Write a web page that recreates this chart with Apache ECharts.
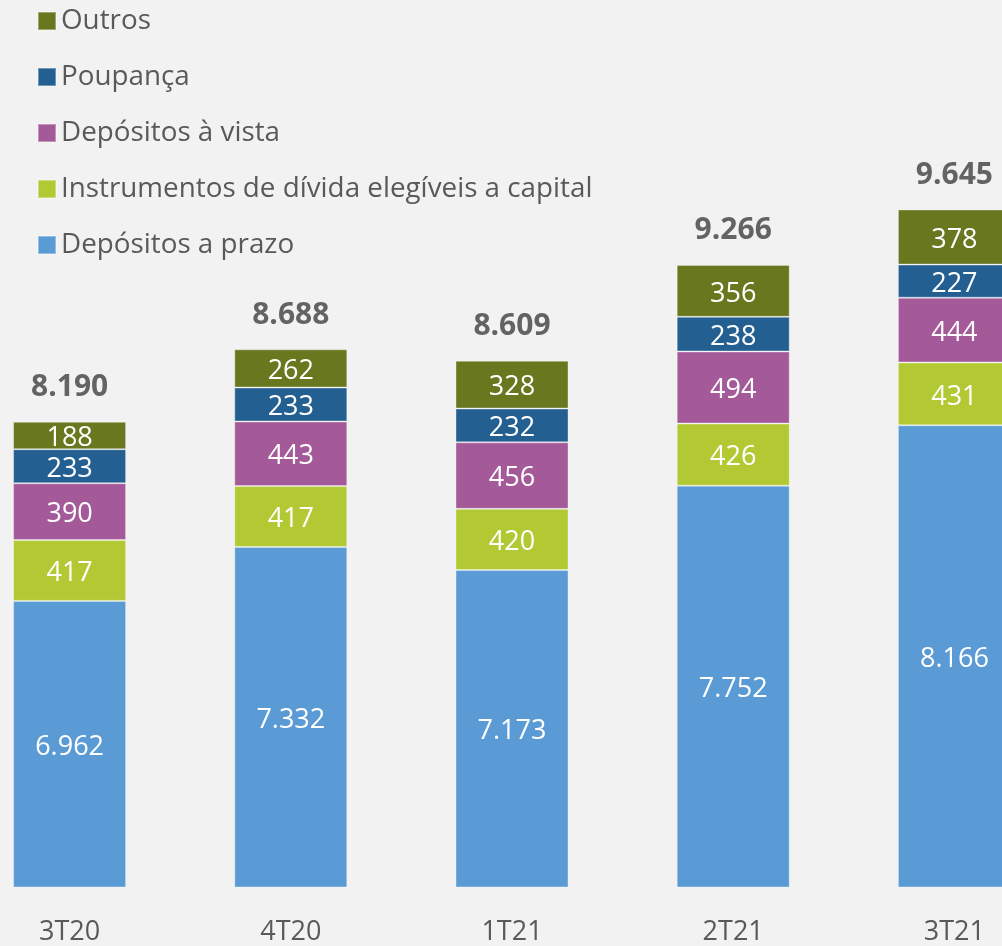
<!DOCTYPE html>
<html>
<head>
<meta charset="utf-8">
<style>
  html, body { margin: 0; padding: 0; background: #f2f2f2; overflow: hidden; }
  /* a área do gráfico passa das bordas da janela, como no original */
  #chart { width: 1106px; height: 946px; margin-left: -41px; }
</style>
<script src="https://cdn.jsdelivr.net/npm/echarts@6/dist/echarts.min.js"></script>
</head>
<body>
<div id="chart"></div>
<script>
// dados do gráfico
const quarters = ['3T20', '4T20', '1T21', '2T21', '3T21'];
const depPrazo = [6962, 7332, 7173, 7752, 8166];
const instrumentos = [417, 417, 420, 426, 431];
const depVista = [390, 443, 456, 494, 444];
const poupanca = [233, 233, 232, 238, 227];
const outros = [188, 262, 328, 356, 378];
const totals = [8190, 8688, 8609, 9266, 9645];

const font = '"Open Sans", "Noto Sans", sans-serif';

// 6962 -> "6.962"
const fmt = (v) => String(v).replace(/\B(?=(\d{3})+(?!\d))/g, '.');

const seg = (name, data, color) => ({
  name: name,
  type: 'bar',
  stack: 'total',
  data: data,
  barWidth: 113,
  itemStyle: { color: color, borderColor: 'rgba(255,255,255,0.35)', borderWidth: 1 },
  label: {
    show: true,
    position: 'inside',
    offset: [0, 3],
    color: '#ffffff',
    fontFamily: font,
    fontSize: 27,
    formatter: (p) => fmt(p.value)
  }
});

const chart = echarts.init(document.getElementById('chart'));
chart.setOption({
  backgroundColor: '#f2f2f2',
  animation: false,
  legend: {
    orient: 'vertical',
    left: 73,
    top: 1,
    icon: 'rect',
    itemWidth: 18,
    itemHeight: 18,
    itemGap: 26,
    data: ['Outros', 'Poupança', 'Depósitos à vista', 'Instrumentos de dívida elegíveis a capital', 'Depósitos a prazo'],
    textStyle: { color: '#595959', fontFamily: font, fontSize: 27.8, lineHeight: 30 }
  },
  grid: { left: 0, right: 0, top: 12, bottom: 57 },
  xAxis: {
    type: 'category',
    data: quarters,
    axisLine: { show: false },
    axisTick: { show: false },
    axisLabel: { color: '#595959', fontFamily: font, fontSize: 27, margin: 32 }
  },
  yAxis: {
    type: 'value',
    min: 5000,
    max: 11000,
    show: false,
    splitLine: { show: false }
  },
  series: [
    seg('Depósitos a prazo', depPrazo, '#5b9bd5'),
    seg('Instrumentos de dívida elegíveis a capital', instrumentos, '#b2c934'),
    seg('Depósitos à vista', depVista, '#a45a99'),
    seg('Poupança', poupanca, '#245f92'),
    seg('Outros', outros, '#69771f'),
    {
      name: 'Total',
      type: 'scatter',
      data: totals,
      symbolSize: 0,
      label: {
        show: true,
        position: 'top',
        distance: 19,
        color: '#3f3f3f',
        fontFamily: font,
        fontWeight: 'bold',
        fontSize: 30,
        formatter: (p) => fmt(p.value)
      }
    }
  ]
});
</script>
</body>
</html>
